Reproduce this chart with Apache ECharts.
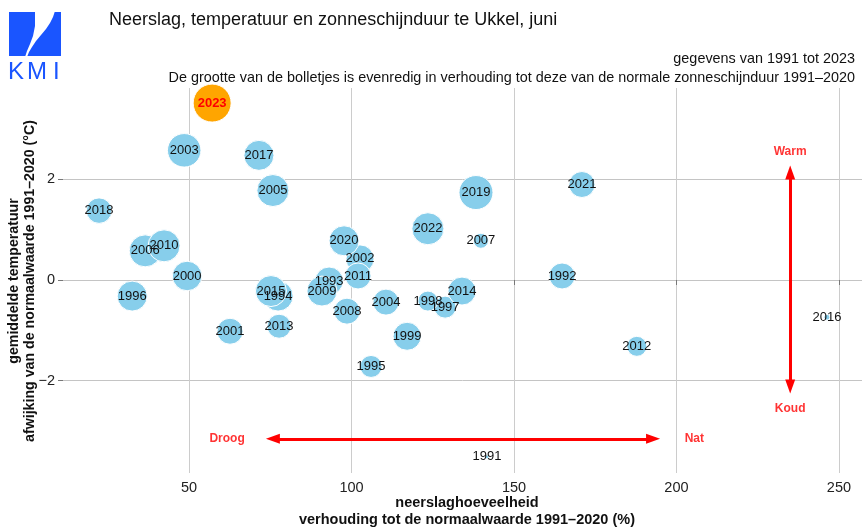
<!DOCTYPE html>
<html>
<head>
<meta charset="utf-8">
<script src="https://cdn.jsdelivr.net/npm/echarts@6/dist/echarts.min.js"></script>
<style>
  html, body { margin: 0; padding: 0; background: #fff; }
  #chart { width: 862px; height: 530px; }
</style>
</head>
<body>
<div id="chart"></div>
<script>
// juni, Ukkel: jaar, neerslag (% van normaal), temperatuurafwijking (°C), zonneschijn (% van normaal)
const jaren = [1991, 1992, 1993, 1994, 1995, 1996, 1997, 1998, 1999, 2000,
  2001, 2002, 2003, 2004, 2005, 2006, 2007, 2008, 2009, 2010,
  2011, 2012, 2013, 2014, 2015, 2016, 2017, 2018, 2019, 2020,
  2021, 2022, 2023]
const neerslag = [141.7, 164.8, 93.1, 77.4, 106.0, 32.5, 128.8, 123.5, 117.1, 49.4,
  62.6, 102.6, 48.5, 110.6, 75.8, 36.5, 139.8, 98.6, 90.9, 42.3,
  102.0, 187.8, 77.7, 134.0, 75.2, 246.3, 71.5, 22.3, 138.3, 97.7,
  170.9, 123.5, 57.1]
const temperatuur = [-3.52, 0.08, -0.02, -0.32, -1.72, -0.32, -0.54, -0.42, -1.12, 0.08,
  -1.02, 0.42, 2.58, -0.44, 1.78, 0.58, 0.78, -0.62, -0.22, 0.68,
  0.08, -1.32, -0.92, -0.22, -0.22, -0.74, 2.48, 1.38, 1.74, 0.78,
  1.90, 1.02, 3.52]
const zon = [16, 104, 112, 120, 88, 120, 88, 80, 112, 118,
  104, 112, 134, 104, 128, 128, 60, 104, 120, 128,
  104, 80, 96, 112, 124, 24, 120, 102, 136, 120,
  104, 128, 152]

const xTicks = [50, 100, 150, 200, 250]
const yTicks = [-2, 0, 2]

const pijlTeksten = [
  [61.7, -3.16, 'Droog'],
  [205.5, -3.16, 'Nat'],
  [235, 2.56, 'Warm'],
  [235, -2.56, 'Koud']
]

const font = "'Liberation Sans', Arial, Helvetica, sans-serif"
const huidigJaar = 2023
const kmiBlauw = '#1a55ff'

let bollen = jaren.map((j, i) => {
  let item = { value: [neerslag[i], temperatuur[i], zon[i], j] }
  if (j === huidigJaar) {
    item.itemStyle = { color: '#ffa500' }
    item.label = { color: '#ff0000', fontWeight: 'bold' }
  }
  return item
})

let chart = echarts.init(document.getElementById('chart'))
let option = {
  animation: false,
  backgroundColor: '#fff',
  grid: {
    left: 63,
    right: 0,
    top: 88,
    bottom: 57
  },
  xAxis: {
    type: 'value',
    min: 11.2,
    max: 257.1,
    axisLine: { show: false },
    axisTick: {
      show: true,
      length: 5,
      customValues: xTicks,
      lineStyle: { color: '#777' }
    },
    axisLabel: {
      customValues: xTicks,
      margin: 7,
      color: '#222',
      fontSize: 14.5,
      fontFamily: font
    },
    splitLine: {
      show: true,
      lineStyle: { color: '#cccccc', width: 1 }
    }
  },
  yAxis: {
    type: 'value',
    min: -3.84,
    max: 3.82,
    axisLine: { show: false },
    axisTick: {
      show: true,
      length: 5,
      customValues: yTicks,
      lineStyle: { color: '#777' }
    },
    axisLabel: {
      customValues: yTicks,
      margin: 8,
      color: '#222',
      fontSize: 14.5,
      fontFamily: font,
      formatter (v) {
        return String(v).replace('-', '\u2212')
      }
    },
    splitLine: {
      show: true,
      lineStyle: { color: '#c4c4c4', width: 1 }
    }
  },
  graphic: [
    // KMI logo
    { type: 'rect', shape: { x: 9, y: 12, width: 52, height: 44 }, style: { fill: kmiBlauw } },
    { type: 'polygon', shape: { points: [[35, 11], [55, 11], [53, 17], [50, 23], [46, 29], [41, 35], [36, 41], [32, 47], [29, 52], [27, 57], [25, 57], [27, 51], [30, 44], [33, 36], [35, 26]] }, style: { fill: '#fff' } },
    { type: 'text', x: 8, y: 72, style: { text: 'K', fill: kmiBlauw, font: '24px ' + font, textVerticalAlign: 'middle' } },
    { type: 'text', x: 27, y: 72, style: { text: 'M', fill: kmiBlauw, font: '24px ' + font, textVerticalAlign: 'middle' } },
    { type: 'text', x: 53, y: 72, style: { text: 'I', fill: kmiBlauw, font: '24px ' + font, textVerticalAlign: 'middle' } },
    // titels
    { type: 'text', x: 109, y: 20, style: { text: 'Neerslag, temperatuur en zonneschijnduur te Ukkel, juni', fill: '#111', font: '18px ' + font, textVerticalAlign: 'middle' } },
    { type: 'text', x: 855, y: 59, style: { text: 'gegevens van 1991 tot 2023', fill: '#111', font: '14.4px ' + font, textAlign: 'right', textVerticalAlign: 'middle' } },
    { type: 'text', x: 855, y: 78, style: { text: 'De grootte van de bolletjes is evenredig in verhouding tot deze van de normale zonneschijnduur 1991\u20132020', fill: '#111', font: '14.4px ' + font, textAlign: 'right', textVerticalAlign: 'middle' } },
    // asnamen
    { type: 'text', x: 467, y: 503, style: { text: 'neerslaghoeveelheid', fill: '#111', font: 'bold 14.5px ' + font, textAlign: 'center', textVerticalAlign: 'middle' } },
    { type: 'text', x: 467, y: 520, style: { text: 'verhouding tot de normaalwaarde 1991\u20132020 (%)', fill: '#111', font: 'bold 14.5px ' + font, textAlign: 'center', textVerticalAlign: 'middle' } },
    { type: 'text', x: 14, y: 281, rotation: Math.PI / 2, style: { text: 'gemiddelde temperatuur', fill: '#111', font: 'bold 14.2px ' + font, textAlign: 'center', textVerticalAlign: 'middle' } },
    { type: 'text', x: 30, y: 281, rotation: Math.PI / 2, style: { text: 'afwijking van de normaalwaarde 1991\u20132020 (\u00b0C)', fill: '#111', font: 'bold 14.2px ' + font, textAlign: 'center', textVerticalAlign: 'middle' } }
  ],
  series: [
    {
      name: 'jaren',
      type: 'scatter',
      data: bollen,
      symbolSize (v) {
        return v[2] * 0.25
      },
      itemStyle: {
        color: '#87ceeb',
        borderColor: '#fff',
        borderWidth: 1,
        opacity: 1
      },
      label: {
        show: true,
        position: 'inside',
        formatter (p) {
          return p.value[3]
        },
        color: '#111',
        fontSize: 13,
        fontFamily: font
      },
      emphasis: { disabled: true }
    },
    {
      name: 'pijlen',
      type: 'scatter',
      silent: true,
      symbolSize: 0,
      data: pijlTeksten,
      label: {
        show: true,
        position: 'inside',
        formatter (p) {
          return p.value[2]
        },
        color: '#ff0000',
        fontWeight: 'bold',
        fontSize: 12,
        fontFamily: font
      },
      markLine: {
        silent: true,
        animation: false,
        symbol: ['triangle', 'triangle'],
        symbolSize: [10, 14],
        label: { show: false },
        lineStyle: { color: '#ff0000', width: 3, type: 'solid' },
        emphasis: { disabled: true },
        data: [
          [{ coord: [75.8, -3.16] }, { coord: [192.8, -3.16] }],
          [{ coord: [235, 2.14] }, { coord: [235, -2.12] }]
        ]
      }
    }
  ]
}
chart.setOption(option)
</script>
</body>
</html>
